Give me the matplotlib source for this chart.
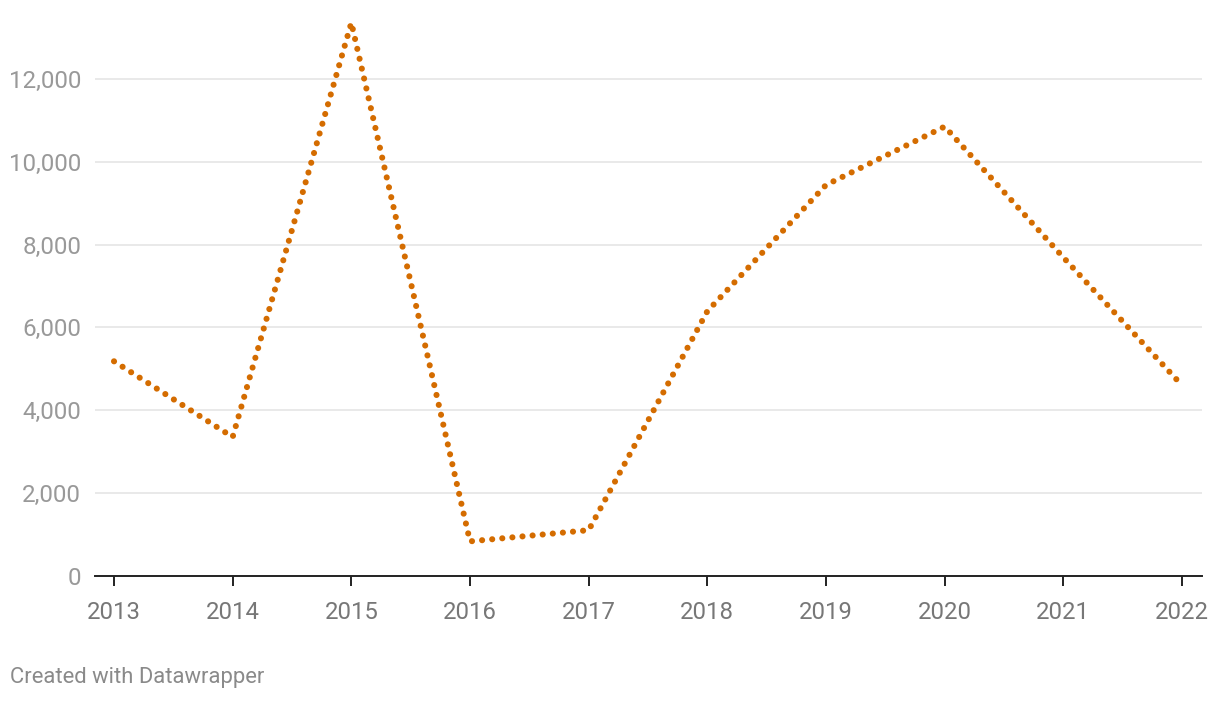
import matplotlib.pyplot as plt

plt.rcParams['font.family'] = ['Roboto', 'DejaVu Sans']

# data
years = [2013, 2014, 2015, 2016, 2017, 2018, 2019, 2020, 2021, 2022]
values = [5180, 3350, 13360, 830, 1100, 6390, 9440, 10850, 7690, 4600]
y_ticks = [0, 2000, 4000, 6000, 8000, 10000, 12000]

W, H = 1220, 702
fig = plt.figure(figsize=(W / 100, H / 100), dpi=100)

# axes box in pixels: left 95, right 1202, bottom 575.7
px_per_1000 = 41.39
ymax = 13600
left, right, bottom = 95, 1202, 575.7
height = ymax / 1000 * px_per_1000
ax = fig.add_axes([left / W, (H - bottom) / H, (right - left) / W, height / H])

ax.plot(years, values, color='#d46c00', lw=4.4,
        linestyle=(0, (0.01, 1.65)), dash_capstyle='round', clip_on=False, zorder=3)

px_per_year = (1182 - 114) / 9
ax.set_xlim(2013 - (114 - left) / px_per_year, 2022 + (right - 1182) / px_per_year)
ax.set_ylim(0, ymax)

ax.set_yticks(y_ticks)
ax.set_yticklabels([f"{v:,}" for v in y_ticks])
ax.set_xticks(years)
ax.set_xticklabels([str(y) for y in years])

for s in ['top', 'right', 'left']:
    ax.spines[s].set_visible(False)
ax.spines['bottom'].set_color('#222222')
ax.spines['bottom'].set_linewidth(1.4)
ax.spines['bottom'].set_zorder(4)

ax.grid(axis='y', color='#e5e5e5', lw=1.2)
ax.set_axisbelow(True)

ax.tick_params(axis='y', length=0, pad=10, labelsize=17.4, labelcolor='#999999')
ax.tick_params(axis='x', length=7.5, width=1.4, color='#222222', pad=11,
               labelsize=17.2, labelcolor='#777777')

fig.text(10 / W, 1 - 678 / H, 'Created with Datawrapper', fontsize=15.8,
         color='#8a8a8a', va='center', ha='left')

fig.savefig('out.png', dpi=100)
